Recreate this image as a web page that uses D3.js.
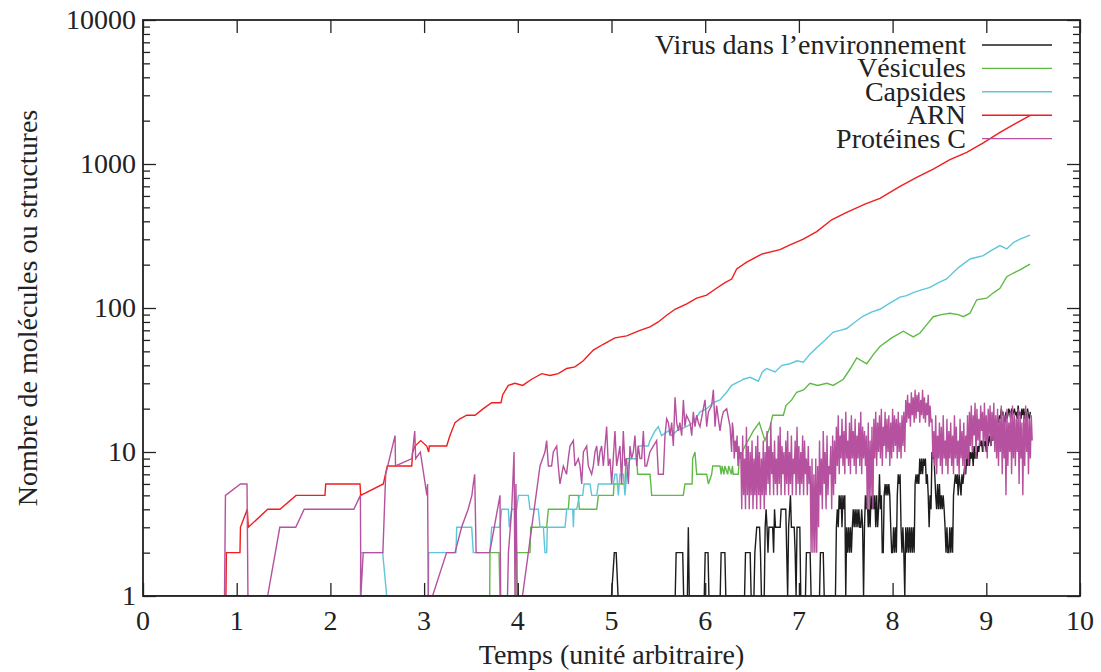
<!DOCTYPE html>
<html>
<head>
<meta charset="utf-8">
<script src="https://cdn.jsdelivr.net/npm/d3@7"></script>
<style>
  html, body { margin: 0; padding: 0; background: #fff; }
  svg { display: block; }
</style>
</head>
<body>
<svg id="chart" width="1101" height="672"></svg>
<script>
// ---- axes ----
const xTicks = [0, 1, 2, 3, 4, 5, 6, 7, 8, 9, 10];
const yTicks = [1, 10, 100, 1000, 10000];
const yTickLabels = ["1", "10", "100", "1000", "10000"];
const xTitle = "Temps (unité arbitraire)";
const yTitle = "Nombre de molécules ou structures";

// ---- series names and colours (plot order) ----
const seriesNames = ["Virus dans l’environnement", "Vésicules", "Capsides", "ARN", "Protéines C"];
const seriesColors = ["#1c1c1c", "#5fba45", "#5ec6da", "#f01d1d", "#b5519e"];

// ---- Virus dans l'environnement: [temps, nombre] ----
const virusPoints = [
  [0,1],[5.00,1],[5.03,2],[5.05,2],[5.07,1],
  [5.68,1],[5.69,2],[5.76,2],[5.77,1],[5.81,1],[5.82,3],[5.83,1],
  [5.99,1],[6.00,2],[6.03,2],[6.04,1],
  [6.16,1],[6.17,2],[6.21,2],[6.22,1],
  [6.42,1],[6.43,2],[6.48,2],[6.49,1],
  [6.52,1],[6.53,2],[6.55,3],[6.58,3],[6.59,2],[6.60,1],
  [6.63,1],[6.64,3],[6.65,4],[6.66,3],[6.67,2],[6.68,3],[6.72,3],[6.73,2],[6.74,4],[6.75,3],
  [6.80,3],[6.81,4],[6.86,4],[6.87,2],[6.88,1],[6.89,3],[6.91,5],[6.92,3],[6.95,3],[6.96,2],
  [6.97,1],[6.98,3],[7.01,3],[7.02,1],
  [7.07,1],[7.08,2],[7.12,2],[7.13,1],
  [7.22,1],[7.23,2],[7.26,2],[7.27,1],[7.39,1]
];
// dense part, one sample every 0.01 from t = 7.40
const virusDenseStart = 7.40;
const virusDenseStep = 0.01;
const virusDense = [
  3,4,3,5,4,5,3,5,4,5,
  1,3,2,3,2,3,2,3,4,3,
  4,3,4,3,4,3,3,4,3,1,
  3,5,4,5,3,4,3,5,4,5,
  4,5,3,5,3,4,7,4,5,2,
  2,5,6,5,6,5,6,5,3,2,
  2,3,2,3,2,5,7,6,7,3,
  2,3,2,1,3,2,3,2,3,2,
  3,2,3,2,6,7,6,7,6,9,
  7,9,7,9,8,9,6,7,5,3,
  5,4,10,9,10,7,5,4,6,4,
  6,4,5,4,5,4,3,2,3,2,
  2,3,2,3,2,5,6,7,6,7,
  5,7,6,5,7,6,7,8,7,9,
  8,11,8,10,9,10,8,11,9,10,
  9,11,10,12,11,12,10,12,11,12,
  10,12,11,13,12,11,13,12,14,13,
  15,14,17,16,18,17,20,18,19,17,
  16,19,17,18,20,19,17,20,18,19,
  20,18,19,17,21,18,19,17,20,18,
  20,17,19,16,20,18,17,19
];

// ---- Vésicules ----
const vesiculePoints = [
  [3.70,1],[3.703,2],[3.80,2],[3.81,1],[3.98,1],[3.988,2],[4.13,2],[4.138,3],[4.308,3],[4.326,4],
  [4.539,4],[4.55,5],[4.646,5],[4.657,4],[4.842,4],[4.86,5],[5.02,5],[5.027,6],[5.144,6],[5.155,9],
  [5.269,9],[5.279,7],[5.411,7],[5.429,5],[5.766,5],[5.784,6],[5.86,6],[5.866,9],[5.891,10],[5.909,7],
  [6.016,7],[6.034,6],[6.069,7],[6.08,8],[6.158,8],[6.17,7],[6.18,8],[6.20,7],[6.21,8],[6.24,7],
  [6.25,8],[6.28,7],[6.29,8],[6.30,7],[6.353,7],[6.364,9],[6.425,11],[6.514,14],[6.577,16],[6.638,12],
  [6.692,15],[6.72,18],[6.834,18],[6.862,21],[6.923,23],[6.976,26],[7.05,27],[7.118,30],[7.20,29],
  [7.297,30],[7.367,29],[7.474,32],[7.55,38],[7.617,45],[7.724,41],[7.80,48],[7.865,54],[7.99,62],
  [8.114,69],[8.221,63],[8.292,67],[8.36,76],[8.434,87],[8.52,90],[8.613,92],[8.70,90],[8.755,87],
  [8.826,92],[8.898,114],[9.004,117],[9.08,128],[9.146,137],[9.218,165],[9.29,175],[9.36,184],[9.466,202]
];

// ---- Capsides ----
const capsidePoints = [
  [2.32,1],[2.323,2],[2.558,2],[2.601,1],[3.045,1],[3.049,2],[3.34,2],[3.348,3],[3.508,3],[3.525,2],
  [3.703,2],[3.721,3],[3.81,3],[3.828,4],[3.899,4],[3.909,3],[3.935,4],[3.988,4],[4.006,5],[4.112,5],
  [4.13,4],[4.219,4],[4.237,3],[4.273,3],[4.29,2],[4.308,2],[4.315,3],[4.504,3],[4.522,4],[4.586,4],
  [4.593,3],[4.60,4],[4.629,4],[4.657,5],[4.693,5],[4.707,6],[4.77,6],[4.789,5],[4.842,5],[4.86,6],
  [5.02,6],[5.037,7],[5.056,7],[5.073,5],[5.091,7],[5.125,7],[5.144,5],[5.162,7],[5.197,9],[5.269,9],
  [5.286,11],[5.393,11],[5.411,12],[5.464,14],[5.50,15],[5.535,13],[5.606,14],[5.642,13],[5.696,14],
  [5.80,15],[5.873,16],[5.945,19],[6.016,20],[6.087,22],[6.158,23],[6.229,26],[6.283,29],[6.371,31],
  [6.407,32],[6.48,33],[6.567,31],[6.61,36],[6.656,38],[6.745,36],[6.82,40],[6.905,41],[6.98,43],
  [7.047,42],[7.12,48],[7.19,53],[7.28,60],[7.367,68],[7.44,70],[7.51,72],[7.60,80],[7.687,88],
  [7.78,94],[7.865,98],[7.97,108],[8.079,119],[8.15,122],[8.221,128],[8.30,133],[8.399,139],[8.49,150],
  [8.577,159],[8.70,190],[8.826,219],[8.90,225],[8.968,231],[9.05,250],[9.146,271],[9.218,257],
  [9.29,285],[9.36,301],[9.466,321]
];

// ---- ARN ----
const arnPoints = [
  [0.885,1],[0.89,2],[1.035,2],[1.04,3],[1.113,4],[1.124,3],[1.331,4],[1.462,4],[1.633,5],[1.942,5],
  [1.95,6],[2.316,6],[2.323,5],[2.565,6],[2.607,8],[2.868,8],[2.878,10],[2.903,11],[2.964,12],[3.028,11],
  [3.049,10],[3.056,11],[3.241,11],[3.276,13],[3.33,16],[3.383,17],[3.455,18],[3.543,18],[3.632,20],
  [3.721,22],[3.821,22],[3.839,25],[3.899,29],[3.97,30],[4.052,29],[4.148,32],[4.255,35],[4.344,34],
  [4.432,35],[4.522,38],[4.61,39],[4.699,43],[4.806,51],[4.912,56],[5.037,62],[5.162,64],[5.304,70],
  [5.411,74],[5.499,80],[5.589,89],[5.678,98],[5.803,107],[5.909,117],[6.016,123],[6.105,135],
  [6.211,150],[6.283,159],[6.336,187],[6.443,208],[6.603,237],[6.798,254],[6.905,274],[7.047,301],
  [7.19,339],[7.35,410],[7.51,462],[7.705,527],[7.865,578],[8.079,700],[8.257,808],[8.434,922],
  [8.612,1071],[8.791,1205],[8.968,1400],[9.146,1660],[9.324,1928],[9.466,2164]
];

// ---- Protéines C ----
const proteinPoints = [
  [0,1],[0.87,1],[0.88,5],[1.04,6],[1.11,6],[1.12,1],[1.33,1],[1.46,3],[1.63,3],[1.72,4],[2.25,4],
  [2.32,5],[2.325,1],[2.35,2],[2.56,2],[2.59,7],[2.69,13],[2.695,8],[2.87,9],[2.90,14],[2.91,9],
  [2.96,10],[3.03,5],[3.037,6],[3.045,1],[3.09,1],[3.24,2],[3.33,2],[3.40,3],[3.47,4],[3.51,5],
  [3.525,6],[3.54,7],[3.555,2],[3.70,2],[3.81,5],[3.817,1],[3.89,1],[3.90,2],[3.935,4],[3.96,10],
  [3.97,1],[3.98,6],[3.995,1],[4.05,1],[4.237,8],
  [4.29,10],[4.308,12],[4.326,8],[4.361,8],[4.379,10],[4.415,11],[4.432,8],[4.45,6],[4.486,8],[4.52,7],
  [4.539,9],[4.557,11],[4.593,12],[4.61,8],[4.646,9],[4.664,8],[4.682,6],[4.70,10],[4.735,11],[4.753,8],
  [4.788,7],[4.806,8],[4.824,10],[4.842,11],[4.86,8],[4.877,10],[4.895,11],[4.913,8],[4.948,15],[4.966,8],
  [4.984,9],[5.002,6],[5.037,14],[5.055,8],[5.09,11],[5.108,6],[5.126,14],[5.144,8],[5.16,9],[5.18,6],
  [5.197,11],[5.215,9],[5.233,10],[5.25,13],[5.269,8],[5.286,11],[5.304,9],[5.322,9],[5.34,14],[5.357,8],
  [5.375,8],[5.41,10],[5.446,11],[5.482,12],[5.50,7],[5.553,7],[5.571,13],[5.589,17],[5.607,16],[5.625,13],
  [5.642,16],[5.66,11],[5.678,24],[5.696,16],[5.713,14],[5.73,16],[5.749,13],[5.767,23],[5.784,15],[5.80,18],
  [5.838,16],[5.856,13],[5.873,19],[5.891,15],[5.909,18],[5.927,16],[5.944,15],[5.98,20],[5.998,23],[6.016,15],
  [6.034,19],[6.069,21],[6.087,27],[6.105,15],[6.122,21],[6.14,17],[6.158,14],[6.176,17],[6.194,19],[6.229,20],
  [6.265,15],[6.282,10],[6.29,16]
];
// dense part, one sample every 0.01 from t = 6.30
const proteinDenseStart = 6.30;
const proteinDenseStep = 0.01;
const proteinDense = [
  14,9,12,10,13,8,11,9,
  10,4,13,5,9,4,15,5,11,4,10,5,12,4,9,5,11,4,13,5,10,4,9,5,12,4,10,5,
  14,6,11,5,16,7,10,5,12,6,9,5,13,6,15,5,11,7,10,5,12,6,14,5,10,6,13,5,9,7,12,5,15,6,11,5,10,6,13,5,12,7,9,5,11,6,
  8,2,9,2,7,2,9,2,8,3,
  12,5,9,4,14,6,10,4,13,5,8,7,11,4,13,5,12,6,
  15,8,18,7,13,9,17,8,14,7,19,9,12,8,16,7,18,9,14,8,17,7,13,9,16,8,19,7,15,9,14,8,
  13,4,16,4,12,5,15,4,
  17,9,19,8,16,10,18,9,20,8,15,11,19,9,17,10,18,8,16,9,20,10,18,11,17,9,19,10,16,9,18,11,19,10,
  23,16,25,17,22,15,26,18,24,16,27,17,25,19,26,16,23,18,27,17,24,16,22,18,25,15,21,16,
  17,9,14,8,18,7,13,9,16,8,15,7,18,9,12,8,17,7,14,9,16,8,13,7,18,9,15,8,12,7,17,9,14,8,16,7,13,9,18,8,
  19,11,21,10,18,13,22,9,20,12,17,11,21,14,19,10,22,12,18,9,20,13,21,11,19,12,22,10,
  18,9,20,8,17,10,21,7,19,9,18,5,20,8,16,10,19,7,21,9,18,8,17,10,20,6,19,9,16,5,18,8,21,10,19,7,17,9,18,12
];

// ---- build full series ----
function withDense(points, start, step, values) {
  return points.concat(values.map((v, i) => [start + i * step, v]));
}
const seriesData = [
  withDense(virusPoints, virusDenseStart, virusDenseStep, virusDense),
  vesiculePoints,
  capsidePoints,
  arnPoints,
  withDense(proteinPoints, proteinDenseStart, proteinDenseStep, proteinDense)
];

// ---- layout ----
const W = 1101, H = 672;
const plot = { left: 143, right: 1080, top: 20, bottom: 596 };
const FONT = "'Liberation Serif', 'Times New Roman', 'DejaVu Serif', serif";
const svg = d3.select("#chart");
svg.append("rect").attr("width", W).attr("height", H).attr("fill", "#fff");

const x = d3.scaleLinear().domain([0, 10]).range([plot.left, plot.right]);
const y = d3.scaleLog().domain([1, 10000]).range([plot.bottom, plot.top]);

svg.append("defs").append("clipPath").attr("id", "plotClip")
  .append("rect")
  .attr("x", plot.left).attr("y", plot.top)
  .attr("width", plot.right - plot.left).attr("height", plot.bottom - plot.top);

// ---- curves ----
const line = d3.line().x(d => x(d[0])).y(d => y(Math.max(1, d[1])));
const curves = svg.append("g").attr("clip-path", "url(#plotClip)");
seriesData.forEach((data, i) => {
  curves.append("path")
    .datum(data)
    .attr("d", line)
    .attr("fill", "none")
    .attr("stroke", seriesColors[i])
    .attr("stroke-width", 1.4)
    .attr("stroke-linejoin", "miter");
});

// ---- frame and ticks (drawn inward on all four sides) ----
const frameColor = "#222";
const majorLen = 13, minorLen = 7;
const axisG = svg.append("g");

const xb = d3.axisBottom(x).tickValues(xTicks).tickSize(-majorLen).tickFormat("");
const xt = d3.axisTop(x).tickValues(xTicks).tickSize(-majorLen).tickFormat("");
axisG.append("g").attr("transform", `translate(0,${plot.bottom})`).call(xb);
axisG.append("g").attr("transform", `translate(0,${plot.top})`).call(xt);

// minor log ticks 2..9 within each decade
const minorVals = [];
yTicks.slice(0, -1).forEach(d => { for (let k = 2; k <= 9; k++) minorVals.push(d * k); });
const yl = d3.axisLeft(y).tickValues(yTicks).tickSize(-majorLen).tickFormat("");
const yr = d3.axisRight(y).tickValues(yTicks).tickSize(-majorLen).tickFormat("");
const ylm = d3.axisLeft(y).tickValues(minorVals).tickSize(-minorLen).tickFormat("");
const yrm = d3.axisRight(y).tickValues(minorVals).tickSize(-minorLen).tickFormat("");
axisG.append("g").attr("transform", `translate(${plot.left},0)`).call(yl);
axisG.append("g").attr("transform", `translate(${plot.left},0)`).call(ylm);
axisG.append("g").attr("transform", `translate(${plot.right},0)`).call(yr);
axisG.append("g").attr("transform", `translate(${plot.right},0)`).call(yrm);
axisG.selectAll(".domain").remove();
axisG.selectAll(".tick line").attr("stroke", frameColor).attr("stroke-width", 1.3);

svg.append("rect")
  .attr("x", plot.left).attr("y", plot.top)
  .attr("width", plot.right - plot.left).attr("height", plot.bottom - plot.top)
  .attr("fill", "none").attr("stroke", frameColor).attr("stroke-width", 1.8);

// ---- tick labels ----
const fontSize = 28;
const labels = svg.append("g").attr("font-family", FONT).attr("fill", "#222");

labels.append("g").selectAll("text").data(xTicks).join("text")
  .attr("x", d => x(d)).attr("y", plot.bottom + 34)
  .attr("text-anchor", "middle").attr("font-size", fontSize)
  .attr("font-family", FONT)
  .text(d => String(d));

labels.append("g").selectAll("text").data(yTicks).join("text")
  .attr("x", plot.left - 7).attr("y", d => y(d) + 9)
  .attr("text-anchor", "end").attr("font-size", fontSize)
  .attr("font-family", FONT)
  .text((d, i) => yTickLabels[i]);

// ---- titles ----
labels.append("text")
  .attr("x", (plot.left + plot.right) / 2).attr("y", 664)
  .attr("text-anchor", "middle").attr("font-size", fontSize)
  .attr("font-family", FONT)
  .text(xTitle);

labels.append("text")
  .attr("transform", `translate(37,${(plot.top + plot.bottom) / 2}) rotate(-90)`)
  .attr("text-anchor", "middle").attr("font-size", fontSize)
  .attr("font-family", FONT)
  .text(yTitle);

// ---- legend ----
const legend = svg.append("g").attr("font-family", FONT).attr("fill", "#222");
seriesNames.forEach((name, i) => {
  const ly = 45 + i * 23.4;
  legend.append("text")
    .attr("x", 966).attr("y", ly + 9)
    .attr("text-anchor", "end").attr("font-size", fontSize)
    .attr("font-family", FONT)
    .text(name);
  legend.append("line")
    .attr("x1", 982).attr("x2", 1052).attr("y1", ly).attr("y2", ly)
    .attr("stroke", seriesColors[i]).attr("stroke-width", 1.4);
});
</script>
</body>
</html>
